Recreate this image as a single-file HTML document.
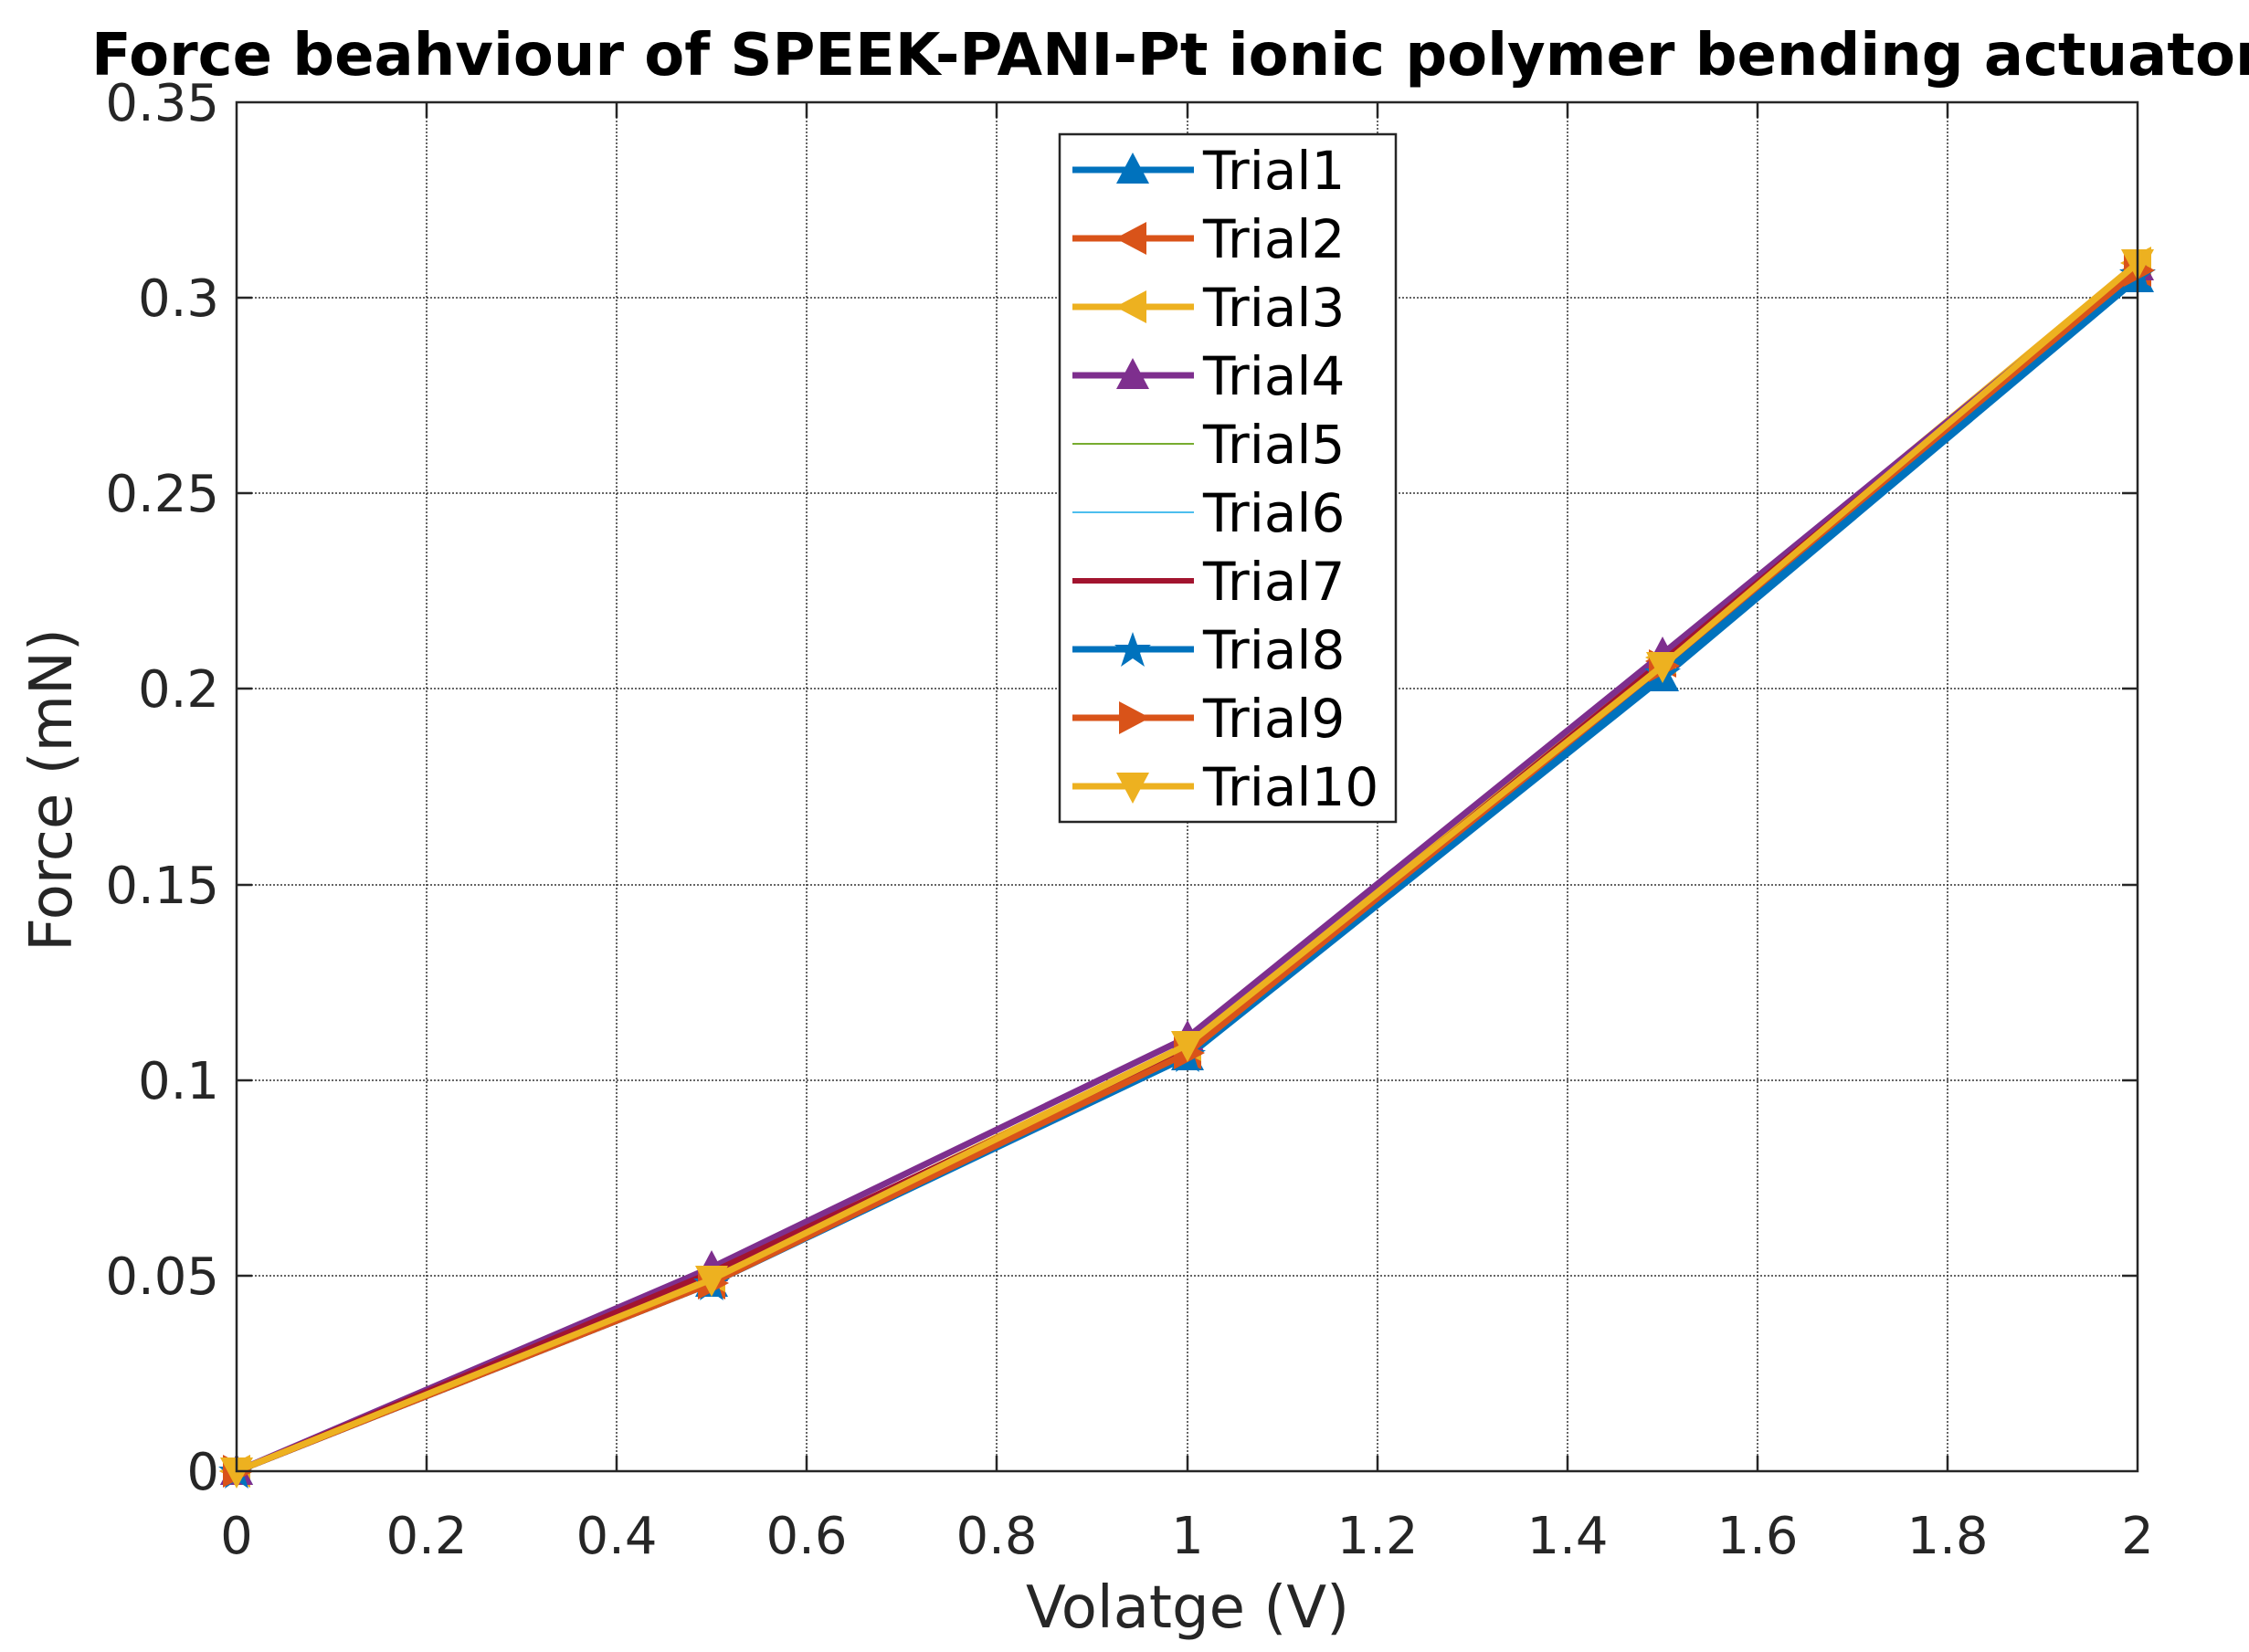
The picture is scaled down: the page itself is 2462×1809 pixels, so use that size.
<!DOCTYPE html>
<html><head><style>html,body{margin:0;padding:0;background:#fff}</style></head><body>
<svg width="2462" height="1804" xmlns="http://www.w3.org/2000/svg" font-family="DejaVu Sans, Liberation Sans, sans-serif">
<defs>
<marker id="tu1" markerUnits="userSpaceOnUse" markerWidth="40" markerHeight="40" refX="20" refY="20" overflow="visible"><polygon points="20,1 38,35 2,35" fill="#0072BD"/></marker>
<marker id="tl2" markerUnits="userSpaceOnUse" markerWidth="40" markerHeight="40" refX="20" refY="20" overflow="visible"><polygon points="1,20 35,2 35,38" fill="#D95319"/></marker>
<marker id="tl3" markerUnits="userSpaceOnUse" markerWidth="40" markerHeight="40" refX="20" refY="20" overflow="visible"><polygon points="1,20 35,2 35,38" fill="#EDB120"/></marker>
<marker id="tu4" markerUnits="userSpaceOnUse" markerWidth="40" markerHeight="40" refX="20" refY="20" overflow="visible"><polygon points="20,1 38,35 2,35" fill="#7E2F8E"/></marker>
<marker id="st8" markerUnits="userSpaceOnUse" markerWidth="40" markerHeight="40" refX="20" refY="20" overflow="visible"><polygon points="20,1 25,15 40,15 28,24 33,39 20,30 7,39 12,24 0,15 15,15" fill="#0072BD"/></marker>
<marker id="tr9" markerUnits="userSpaceOnUse" markerWidth="40" markerHeight="40" refX="20" refY="20" overflow="visible"><polygon points="39,20 5,2 5,38" fill="#D95319"/></marker>
<marker id="td10" markerUnits="userSpaceOnUse" markerWidth="40" markerHeight="40" refX="20" refY="20" overflow="visible"><polygon points="20,39 38,5 2,5" fill="#EDB120"/></marker>
</defs>
<g stroke="#333" stroke-width="1.5" stroke-dasharray="2,2">
<line x1="467" y1="112" x2="467" y2="1611"/><line x1="675" y1="112" x2="675" y2="1611"/><line x1="883" y1="112" x2="883" y2="1611"/><line x1="1091" y1="112" x2="1091" y2="1611"/><line x1="1300" y1="112" x2="1300" y2="1611"/><line x1="1508" y1="112" x2="1508" y2="1611"/><line x1="1716" y1="112" x2="1716" y2="1611"/><line x1="1924" y1="112" x2="1924" y2="1611"/><line x1="2132" y1="112" x2="2132" y2="1611"/>
<line x1="259" y1="1397" x2="2340" y2="1397"/><line x1="259" y1="1183" x2="2340" y2="1183"/><line x1="259" y1="969" x2="2340" y2="969"/><line x1="259" y1="754" x2="2340" y2="754"/><line x1="259" y1="540" x2="2340" y2="540"/><line x1="259" y1="326" x2="2340" y2="326"/>
</g>
<g fill="none" stroke-linejoin="round">
<polyline points="259,1611 779,1405 1300,1157 1820,742 2340,305" stroke="#0072BD" stroke-width="7" marker-start="url(#tu1)" marker-mid="url(#tu1)" marker-end="url(#tu1)"/>
<polyline points="259,1611 779,1405 1300,1153 1820,724 2340,296" stroke="#D95319" stroke-width="7" marker-start="url(#tl2)" marker-mid="url(#tl2)" marker-end="url(#tl2)"/>
<polyline points="259,1611 779,1397 1300,1144 1820,720 2340,288" stroke="#EDB120" stroke-width="7" marker-start="url(#tl3)" marker-mid="url(#tl3)" marker-end="url(#tl3)"/>
<polyline points="259,1611 779,1388 1300,1136 1820,716 2340,292" stroke="#7E2F8E" stroke-width="7" marker-start="url(#tu4)" marker-mid="url(#tu4)" marker-end="url(#tu4)"/>
<polyline points="259,1611 779,1401 1300,1148 1820,729 2340,292" stroke="#77AC30" stroke-width="2"/>
<polyline points="259,1611 779,1405 1300,1153 1820,729 2340,296" stroke="#4DBEEE" stroke-width="2"/>
<polyline points="259,1611 779,1393 1300,1148 1820,724 2340,292" stroke="#A2142F" stroke-width="6"/>
<polyline points="259,1611 779,1405 1300,1155 1820,737 2340,300" stroke="#0072BD" stroke-width="7" marker-start="url(#st8)" marker-mid="url(#st8)" marker-end="url(#st8)"/>
<polyline points="259,1611 779,1405 1300,1153 1820,729 2340,296" stroke="#D95319" stroke-width="7" marker-start="url(#tr9)" marker-mid="url(#tr9)" marker-end="url(#tr9)"/>
<polyline points="259,1611 779,1401 1300,1144 1820,729 2340,288" stroke="#EDB120" stroke-width="7" marker-start="url(#td10)" marker-mid="url(#td10)" marker-end="url(#td10)"/>
</g>
<rect x="259" y="112" width="2081" height="1499" fill="none" stroke="#262626" stroke-width="2.5"/>
<g stroke="#262626" stroke-width="2.5">
<line x1="467" y1="1611" x2="467" y2="1594"/><line x1="675" y1="1611" x2="675" y2="1594"/><line x1="883" y1="1611" x2="883" y2="1594"/><line x1="1091" y1="1611" x2="1091" y2="1594"/><line x1="1300" y1="1611" x2="1300" y2="1594"/><line x1="1508" y1="1611" x2="1508" y2="1594"/><line x1="1716" y1="1611" x2="1716" y2="1594"/><line x1="1924" y1="1611" x2="1924" y2="1594"/><line x1="2132" y1="1611" x2="2132" y2="1594"/>
<line x1="467" y1="112" x2="467" y2="129"/><line x1="675" y1="112" x2="675" y2="129"/><line x1="883" y1="112" x2="883" y2="129"/><line x1="1091" y1="112" x2="1091" y2="129"/><line x1="1300" y1="112" x2="1300" y2="129"/><line x1="1508" y1="112" x2="1508" y2="129"/><line x1="1716" y1="112" x2="1716" y2="129"/><line x1="1924" y1="112" x2="1924" y2="129"/><line x1="2132" y1="112" x2="2132" y2="129"/>
<line x1="259" y1="1397" x2="276" y2="1397"/><line x1="259" y1="1183" x2="276" y2="1183"/><line x1="259" y1="969" x2="276" y2="969"/><line x1="259" y1="754" x2="276" y2="754"/><line x1="259" y1="540" x2="276" y2="540"/><line x1="259" y1="326" x2="276" y2="326"/>
<line x1="2340" y1="1397" x2="2323" y2="1397"/><line x1="2340" y1="1183" x2="2323" y2="1183"/><line x1="2340" y1="969" x2="2323" y2="969"/><line x1="2340" y1="754" x2="2323" y2="754"/><line x1="2340" y1="540" x2="2323" y2="540"/><line x1="2340" y1="326" x2="2323" y2="326"/>
</g>
<g font-size="56" fill="#262626" text-anchor="end">
<text x="240" y="1631">0</text><text x="240" y="1417">0.05</text><text x="240" y="1203">0.1</text><text x="240" y="989">0.15</text><text x="240" y="774">0.2</text><text x="240" y="560">0.25</text><text x="240" y="346">0.3</text><text x="240" y="132">0.35</text>
</g>
<g font-size="56" fill="#262626" text-anchor="middle">
<text x="259" y="1701">0</text><text x="467" y="1701">0.2</text><text x="675" y="1701">0.4</text><text x="883" y="1701">0.6</text><text x="1091" y="1701">0.8</text><text x="1300" y="1701">1</text><text x="1508" y="1701">1.2</text><text x="1716" y="1701">1.4</text><text x="1924" y="1701">1.6</text><text x="2132" y="1701">1.8</text><text x="2340" y="1701">2</text>
</g>
<text x="1300" y="1782" font-size="64" fill="#262626" text-anchor="middle">Volatge (V)</text>
<text transform="translate(78,865) rotate(-90)" font-size="64" fill="#262626" text-anchor="middle">Force (mN)</text>
<text x="100" y="82" font-size="64" font-weight="bold" fill="#000">Force beahviour of SPEEK-PANI-Pt ionic polymer bending actuator</text>
<rect x="1160" y="147" width="368" height="753" fill="#fff" stroke="#262626" stroke-width="2.5"/>
<g font-size="58" fill="#000">
<polyline points="1174,186 1240,186 1307,186" fill="none" stroke="#0072BD" stroke-width="7" marker-mid="url(#tu1)"/><text x="1317" y="207">Trial1</text>
<polyline points="1174,261 1240,261 1307,261" fill="none" stroke="#D95319" stroke-width="7" marker-mid="url(#tl2)"/><text x="1317" y="282">Trial2</text>
<polyline points="1174,336 1240,336 1307,336" fill="none" stroke="#EDB120" stroke-width="7" marker-mid="url(#tl3)"/><text x="1317" y="357">Trial3</text>
<polyline points="1174,411 1240,411 1307,411" fill="none" stroke="#7E2F8E" stroke-width="7" marker-mid="url(#tu4)"/><text x="1317" y="432">Trial4</text>
<line x1="1174" y1="486" x2="1307" y2="486" stroke="#77AC30" stroke-width="2"/><text x="1317" y="507">Trial5</text>
<line x1="1174" y1="561" x2="1307" y2="561" stroke="#4DBEEE" stroke-width="2"/><text x="1317" y="582">Trial6</text>
<line x1="1174" y1="636" x2="1307" y2="636" stroke="#A2142F" stroke-width="6"/><text x="1317" y="657">Trial7</text>
<polyline points="1174,711 1240,711 1307,711" fill="none" stroke="#0072BD" stroke-width="7" marker-mid="url(#st8)"/><text x="1317" y="732">Trial8</text>
<polyline points="1174,786 1240,786 1307,786" fill="none" stroke="#D95319" stroke-width="7" marker-mid="url(#tr9)"/><text x="1317" y="807">Trial9</text>
<polyline points="1174,861 1240,861 1307,861" fill="none" stroke="#EDB120" stroke-width="7" marker-mid="url(#td10)"/><text x="1317" y="882">Trial10</text>
</g>
</svg>
</body></html>
